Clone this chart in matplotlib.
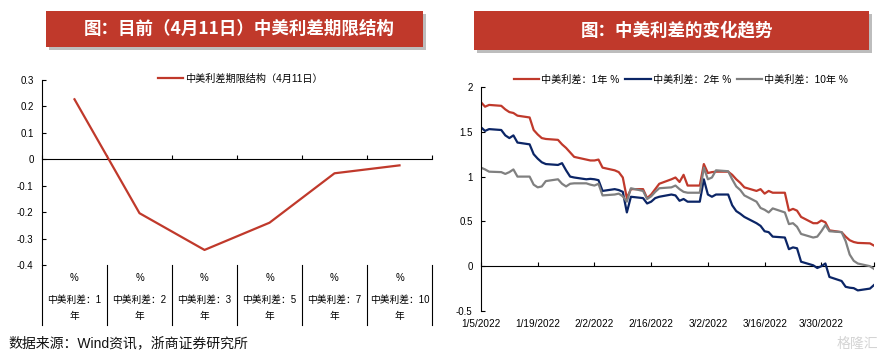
import numpy as np
import pandas as pd
import matplotlib
matplotlib.use("Agg")
import matplotlib.pyplot as plt
import matplotlib.dates as mdates
import matplotlib.transforms as mtransforms
from matplotlib.patches import Rectangle

plt.rcParams['font.family'] = ['Liberation Sans', 'Noto Sans CJK SC', 'DejaVu Sans']
plt.rcParams['axes.unicode_minus'] = False

W, H = 886, 359

# 左图：中美利差期限结构（4月11日）
terms = ['1', '2', '3', '5', '7', '10']
spread_term = [0.227, -0.204, -0.343, -0.240, -0.053, -0.023]

# 右图：中美利差走势（工作日）
dates = pd.bdate_range('2022-01-05', '2022-04-12')
s1y = [1.83, 1.78, 1.80, 1.79, 1.75, 1.72, 1.71, 1.68, 1.66, 1.52, 1.47, 1.43, 1.42, 1.41, 1.36, 1.32, 1.27, 1.22, 1.19,
       1.18, 1.18, 1.19, 1.10, 1.07, 1.05, 0.99, 0.76, 0.86, 0.86, 0.76, 0.80, 0.86, 0.92, 0.97, 0.99, 0.94, 1.02, 0.90, 0.90,
       1.14, 1.04, 1.05, 1.055, 1.055, 1.02, 0.97, 0.93, 0.88, 0.84, 0.86, 0.81, 0.84, 0.82, 0.82, 0.62, 0.64, 0.62, 0.55,
       0.48, 0.48, 0.51, 0.49,
       0.40, 0.38, 0.33, 0.29, 0.27, 0.26, 0.255, 0.23]
s2y = [1.55, 1.51, 1.53, 1.52, 1.46, 1.43, 1.46, 1.38, 1.36, 1.25, 1.20, 1.16, 1.14, 1.13, 1.15, 1.07, 1.00, 0.99, 0.97,
       0.975, 0.97, 0.96, 0.84, 0.86, 0.85, 0.83, 0.60, 0.775, 0.76, 0.70, 0.72, 0.76, 0.775, 0.80, 0.79, 0.73, 0.75, 0.72, 0.72,
       0.97, 0.80, 0.775, 0.80, 0.80, 0.68, 0.615, 0.585, 0.55, 0.48, 0.45, 0.39, 0.38, 0.33, 0.32, 0.19, 0.21, 0.20, 0.05,
       0.01, -0.02, 0.00, 0.03,
       -0.12, -0.165, -0.23, -0.24, -0.245, -0.27, -0.25, -0.21]
s10y = [1.10, 1.08, 1.055, 1.05, 1.03, 1.05, 1.08, 1.00, 1.00, 0.91, 0.88, 0.89, 0.95, 0.97, 0.92, 0.89, 0.92, 0.925, 0.925,
        0.91, 0.90, 0.92, 0.79, 0.80, 0.81, 0.78, 0.72, 0.87, 0.84, 0.75, 0.78, 0.83, 0.87, 0.88, 0.90, 0.86, 0.83, 0.82, 0.82,
        1.10, 0.97, 0.99, 1.07, 1.06, 0.97, 0.89, 0.85, 0.79, 0.72, 0.65, 0.63, 0.60, 0.645, 0.60, 0.47, 0.48, 0.44, 0.36,
        0.32, 0.33, 0.39, 0.46,
        0.39, 0.38, 0.28, 0.13, 0.06, 0.03, 0.00, -0.03]
assert len(dates) == len(s1y) == len(s2y) == len(s10y)

RED = '#C0392B'
NAVY = '#0B2566'
GRAY = '#808080'
CJK = ['Noto Sans CJK SC', 'DejaVu Sans']

fig = plt.figure(figsize=(W / 100, H / 100), dpi=100)


def fx(px):
    return px / W


def fy(py):
    return 1 - py / H


def title_box(x0, x1, y0, y1, text, dx):
    shadow = Rectangle((fx(x0 + 3), fy(y1 + 3)), (x1 - x0) / W, (y1 - y0) / H,
                       transform=fig.transFigure, facecolor='#bdbdbd', edgecolor='none', zorder=0)
    box = Rectangle((fx(x0), fy(y1)), (x1 - x0) / W, (y1 - y0) / H,
                    transform=fig.transFigure, facecolor=RED, edgecolor='none', zorder=1)
    fig.patches.append(shadow)
    fig.patches.append(box)
    fig.text(fx((x0 + x1) / 2 + dx), fy((y0 + y1) / 2), text, color='white', fontsize=12.6,
             fontweight='bold', ha='center', va='center', family=CJK, zorder=2)


title_box(46, 423, 11, 47, '图：目前（4月11日）中美利差期限结构', 5)
title_box(474, 869, 11, 50, '图：中美利差的变化趋势', 6)

# ---------- 左图 ----------
ax1 = fig.add_axes([fx(42), fy(265), (432 - 42) / W, (265 - 80) / H])
x = np.arange(len(terms))
ax1.plot(x, spread_term, color=RED, lw=1.6, label='中美利差期限结构（4月11日）')
ax1.set_xlim(-0.5, len(terms) - 0.5)
ax1.set_ylim(-0.4, 0.3)
ax1.set_yticks(np.arange(-0.4, 0.31, 0.1))
ax1.yaxis.set_major_formatter(lambda v, p: f'{round(v, 1) + 0:g}')
ax1.tick_params(axis='y', direction='in', length=3, width=0.8, labelsize=7, pad=6)
ax1.set_xticks([])
for s in ['top', 'right', 'bottom']:
    ax1.spines[s].set_visible(False)
ax1.spines['left'].set_linewidth(0.8)

# 0 轴线（位置 > 0.5 时副轴按 top 方式绘制）
bounds = np.arange(-0.5, len(terms), 1.0)
sec1 = ax1.secondary_xaxis(0.4 / 0.7)
sec1.set_xticks(bounds)
sec1.set_xticklabels([])
sec1.tick_params(direction='out', length=3, width=0.8, labeltop=False, labelbottom=False)
sec1.spines['top'].set_linewidth(0.8)

tr1 = mtransforms.blended_transform_factory(ax1.transData, ax1.transAxes)
for b in bounds:
    ax1.plot([b, b], [0, -0.324], transform=tr1, color='black', lw=0.8, clip_on=False)
for i, t in enumerate(terms):
    ax1.text(i, -0.07, '%', transform=tr1, ha='center', va='center', fontsize=7)
    ax1.text(i, -0.19, f'中美利差：{t}', transform=tr1, ha='center', va='center', fontsize=7)
    ax1.text(i, -0.276, '年', transform=tr1, ha='center', va='center', fontsize=7)

ax1.legend(loc='center', bbox_to_anchor=(fx(240), fy(79)), bbox_transform=fig.transFigure,
           frameon=False, fontsize=7.3, handlelength=2.5, handletextpad=0.2)

# ---------- 右图 ----------
ax2 = fig.add_axes([fx(481), fy(311), (874 - 481) / W, (311 - 87) / H])
ax2.plot(dates, s1y, color=RED, lw=1.6, label='中美利差：1年 %')
ax2.plot(dates, s2y, color=NAVY, lw=1.6, label='中美利差：2年 %')
ax2.plot(dates, s10y, color=GRAY, lw=1.6, label='中美利差：10年 %')
ax2.set_xlim(dates[0], dates[-1])
ax2.set_ylim(-0.5, 2)
ax2.set_yticks([-0.5, 0, 0.5, 1, 1.5, 2])
ax2.yaxis.set_major_formatter(lambda v, p: f'{v:g}')
ax2.tick_params(axis='y', direction='in', length=3, width=0.8, labelsize=7, pad=6)

xt = pd.date_range('2022-01-05', periods=7, freq='14D')
ax2.set_xticks(xt)
ax2.set_xticklabels([f'{d.month}/{d.day}/{d.year}' for d in xt])
ax2.tick_params(axis='x', length=0, labelsize=7.2, pad=6)
for s in ['top', 'right', 'bottom']:
    ax2.spines[s].set_visible(False)
ax2.spines['left'].set_linewidth(0.8)

sec2 = ax2.secondary_xaxis(0.5 / 2.5)
sec2.set_xticks(list(mdates.date2num(xt)) + [mdates.date2num(dates[-1])])
sec2.set_xticklabels([])
sec2.tick_params(direction='in', length=3, width=0.8, labelbottom=False, labeltop=False)
sec2.spines['bottom'].set_linewidth(0.8)

ax2.legend(loc='center', bbox_to_anchor=(fx(681), fy(80)), bbox_transform=fig.transFigure,
           frameon=False, fontsize=7.3, ncol=3, handlelength=2.5, handletextpad=0.2, columnspacing=0.6)

fig.text(fx(8), fy(343), '数据来源：Wind资讯，浙商证券研究所', fontsize=10, ha='left', va='center', color='#111111')
fig.text(fx(878), fy(344), '格隆汇', fontsize=10, ha='right', va='center', color='#d4d4d4', family=CJK)

fig.savefig('out.png', dpi=100)
